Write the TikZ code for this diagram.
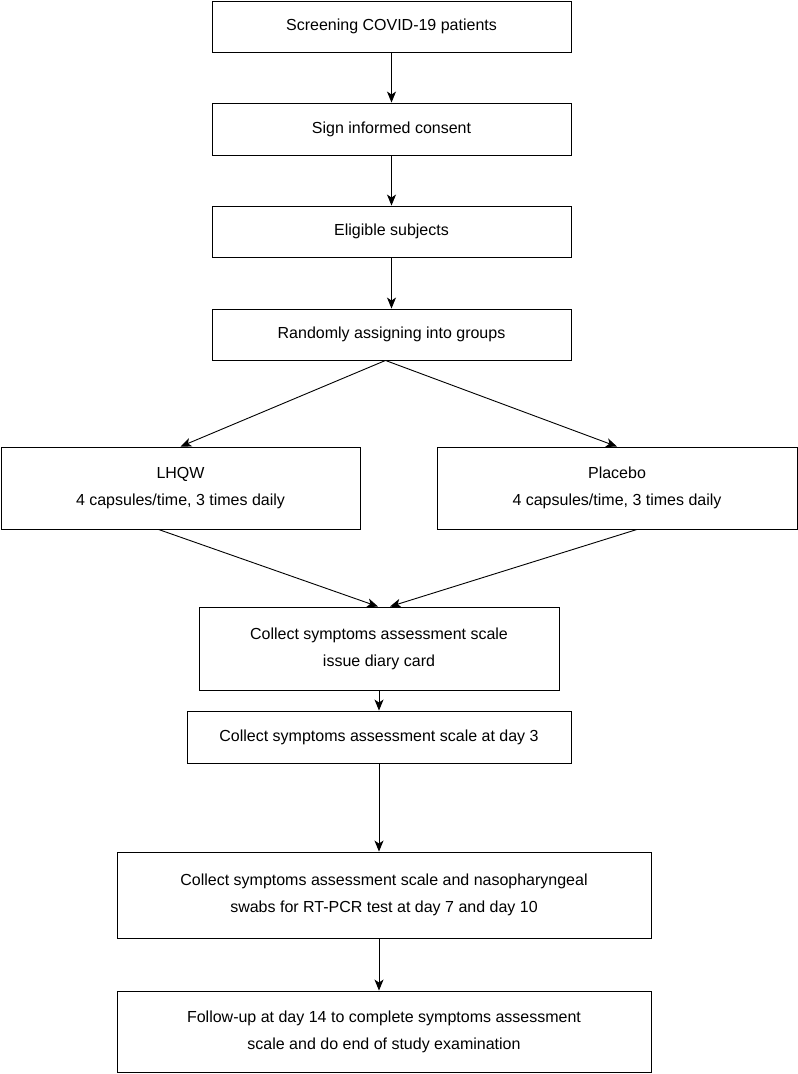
\documentclass[tikz,border=0pt]{standalone}
\usepackage{fontspec}
\setmainfont{Liberation Sans}
\usetikzlibrary{arrows.meta, positioning}
\tikzset{
    boxnode/.style = {draw, rectangle, line width=0.9pt, inner sep=0pt, align=center,
      minimum width=359pt, font=\fontsize{16}{27}\selectfont},
    connect/.style = {line width=0.9pt, -{Stealth[length=11pt, width=9pt, inset=3pt]}}
}

\begin{document}
\begin{tikzpicture}[x=1pt, y=-1pt]
    \useasboundingbox (0,0) rectangle (798,1074);

    \node [name=screen, boxnode, minimum height=51pt] at (391.5,26.5) {Screening COVID-19 patients};
    \node [name=consent, boxnode, minimum height=52pt] at (391.5,129) {Sign informed consent};
    \node [name=eligible, boxnode, minimum height=51pt] at (391.5,231.5) {Eligible subjects};
    \node [name=random, boxnode, minimum height=51pt] at (391.5,334.5) {Randomly assigning into groups};

    \node [name=lhqw, boxnode, minimum height=82pt] at (180.5,488) {LHQW\\4 capsules/time, 3 times daily};
    \node [name=placebo, boxnode, minimum width=360pt, minimum height=82pt] at (617,488) {Placebo\\4 capsules/time, 3 times daily};

    \node [name=collect, boxnode, minimum width=360pt, minimum height=83pt] at (379,648.5) {Collect symptoms assessment scale\\issue diary card};
    \node [name=day3, boxnode, minimum width=384pt, minimum height=52pt] at (379,737) {Collect symptoms assessment scale at day 3};
    \node [name=day7, boxnode, minimum width=534pt, minimum height=86pt] at (384,895) {Collect symptoms assessment scale and nasopharyngeal\\swabs for RT-PCR test at day 7 and day 10};
    \node [name=followup, boxnode, minimum width=534pt, minimum height=81pt] at (384,1031.5) {Follow-up at day 14 to complete symptoms assessment\\scale and do end of study examination};

    \draw [connect] (screen) -- (consent);
    \draw [connect] (consent) -- (eligible);
    \draw [connect] (eligible) -- (random);

    \coordinate (split) at ([xshift=-6pt]random.south);
    \draw [connect] (split) -- (lhqw.north);
    \draw [connect] (split) -- (placebo.north);

    \coordinate (joinl) at ([xshift=-1pt]collect.north);
    \coordinate (joinr) at ([xshift=11pt]collect.north);
    \draw [connect] ([xshift=-22pt]lhqw.south) -- (joinl);
    \draw [connect] ([xshift=20pt]placebo.south) -- (joinr);

    \draw [connect] (collect.south) -- (collect.south |- day3.north);
    \draw [connect] (collect.south |- day3.south) -- (collect.south |- day7.north);
    \draw [connect] (collect.south |- day7.south) -- (collect.south |- followup.north);
\end{tikzpicture}
\end{document}
